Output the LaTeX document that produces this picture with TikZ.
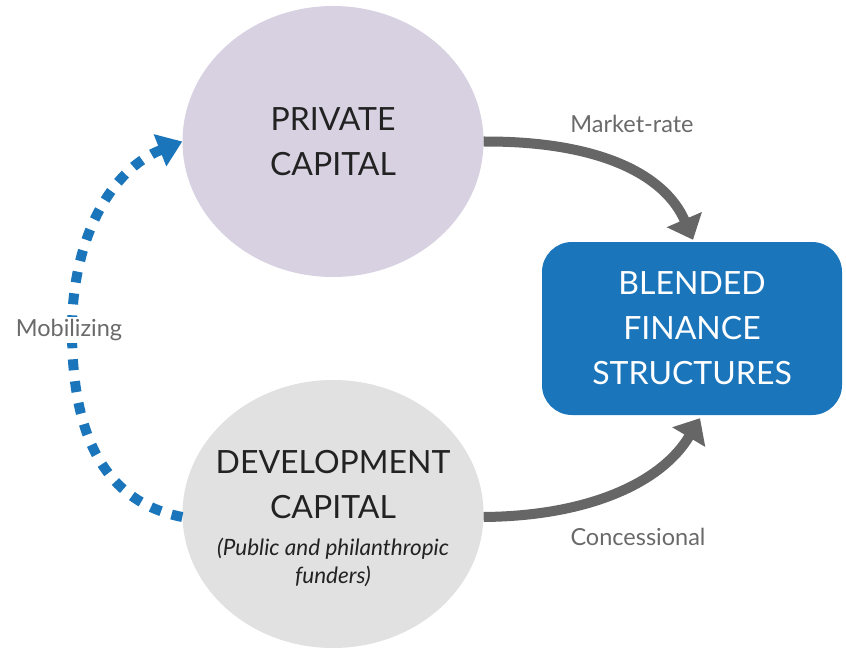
\documentclass[tikz,border=0pt]{standalone}
\usepackage{fontspec}
\setmainfont{Lato}
\usetikzlibrary{arrows.meta,calc,shapes.geometric}
\definecolor{privfill}{HTML}{D7D1E1}
\definecolor{devfill}{HTML}{E1E1E1}
\definecolor{blendblue}{HTML}{1B75BB}
\definecolor{arrowgray}{HTML}{666666}
\definecolor{labelgray}{HTML}{6A6A6A}
\definecolor{textdark}{HTML}{222222}
\tikzset{
  bigtext/.style={font=\fontsize{32}{45}\selectfont},
  bubble/.style={ellipse, minimum width=301pt, minimum height=271pt, inner sep=0pt, align=center, text=textdark, bigtext},
  blendbox/.style={rectangle, rounded corners=30pt, fill=blendblue, minimum width=300pt, minimum height=173pt,
    align=center, text=white, bigtext},
  flowarrow/.style={draw=arrowgray, line width=10pt, -{Triangle[width=37pt,length=22pt]}},
  mobarrow/.style={draw=blendblue, line width=10pt, dash pattern=on 11pt off 11pt,
    -{Triangle[width=33pt,length=24pt]}},
  edgelabel/.style={text=labelgray, font=\fontsize{23.5}{26}\selectfont, inner sep=2pt}
}
\begin{document}
\begin{tikzpicture}[x=1pt,y=-1pt]
\useasboundingbox (0,0) rectangle (846,650);
\node[bubble, fill=privfill] (priv) at (333,141.5) {PRIVATE\\CAPITAL};
\node[bubble, fill=devfill, minimum height=268pt] (dev) at (333,514) {};
\node[align=center, text=textdark, bigtext, anchor=base] (devtitle) at (333,518) {DEVELOPMENT\\CAPITAL};
\node[align=center, text=textdark, font=\fontsize{22.5}{28}\selectfont\itshape, anchor=base] (devsub) at (333,583) {(Public and philanthropic\\funders)};
\node[blendbox] (blend) at (692,328.5) {BLENDED\\FINANCE\\STRUCTURES};
\coordinate (toptip) at ($(blend.north)+(1,-2)$);
\coordinate (bottip) at ($(blend.south)+(8,3)$);
\draw[flowarrow] (priv.east) .. controls (600,141) and (665,175) .. (toptip);
\draw[flowarrow] (dev.east |- 0,517) .. controls (590,516) and (662,482) .. (bottip);
\draw[mobarrow] (dev.west |- 0,517) .. controls (95,500) and (72,420) .. (72,330)
  .. controls (72,240) and (110,170) .. (priv.west);
\node[edgelabel] (mkt) at (632,124) {Market-rate};
\node[edgelabel] (conc) at (638,537) {Concessional};
\node[edgelabel, fill=white] (mob) at (69,330) {Mobilizing};
\end{tikzpicture}
\end{document}
